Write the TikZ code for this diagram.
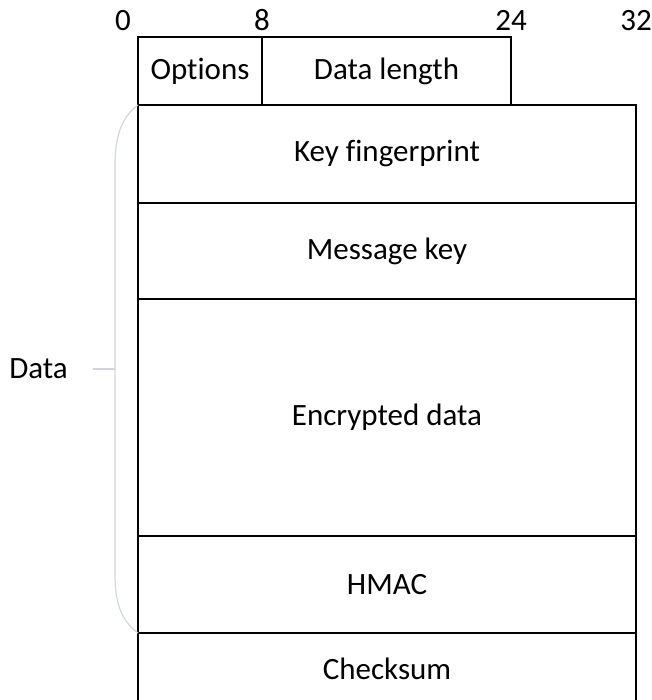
\documentclass[tikz,border=0pt]{standalone}
\usepackage{fontspec}
\setmainfont{Carlito}[Ligatures=CommonOff]
\usepackage{tikz}
\usetikzlibrary{positioning}
\definecolor{bracegray}{RGB}{210,214,220}

\begin{document}
\begin{tikzpicture}[x=1pt, y=-1pt, font=\fontsize{31}{36}\selectfont,
    field/.style={draw, line width=2.4pt, inner sep=0pt, outer sep=0pt},
    bitno/.style={inner sep=0pt, anchor=base},
    brace/.style={bracegray, line width=1.2pt}]
    \useasboundingbox (0,0) rectangle (651,700);
    \clip (0,0) rectangle (651,700);

    % Header row
    \node[field, anchor=north west, minimum width=124pt, minimum height=68pt] (opts) at (138,37) {Options};
    \node[field, right=0pt of opts, minimum width=249pt, minimum height=68pt] (dlen) {Data length};

    % Bit positions
    \node[bitno] (b0) at (123,31) {0};
    \node[bitno] (b8) at (262,31) {8};
    \node[bitno] (b24) at (511,31) {24};
    \node[bitno] (b32) at (636,31) {32};

    % Packet body
    \node[field, anchor=north west, minimum width=498pt, minimum height=98pt] (keyfp) at (opts.south west) {Key fingerprint};
    \node[field, below=0pt of keyfp, minimum width=498pt, minimum height=96pt] (msgkey) {Message key};
    \node[field, below=0pt of msgkey, minimum width=498pt, minimum height=237pt] (encdata) {Encrypted data};
    \node[field, below=0pt of encdata, minimum width=498pt, minimum height=97pt] (hmac) {HMAC};
    \node[field, below=0pt of hmac, minimum width=498pt, minimum height=72pt] (chksum) {Checksum};

    % Data brace
    \draw[brace] (keyfp.north west) .. controls (120,118) and (115,140) .. (115,165)
      -- (115,575) .. controls (115,600) and (120,620) .. (hmac.south west);
    \coordinate (tip) at (115,369);
    \draw[brace] (tip) -- ++(-22,0) coordinate (tickend);
    \node[left=25pt of tickend, inner sep=0pt] (datalbl) {Data};
  \end{tikzpicture}
\end{document}
